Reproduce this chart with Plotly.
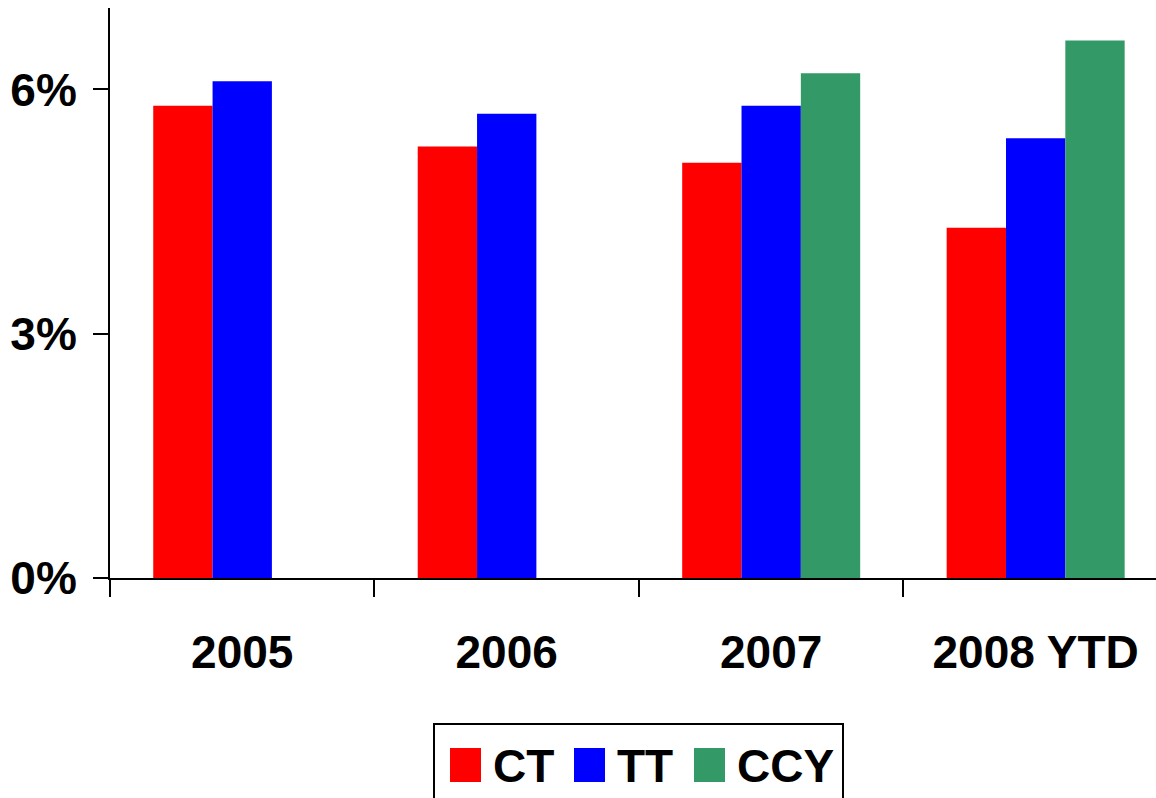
import plotly.graph_objects as go

# Annual rates by instrument (percent)
categories = ["2005", "2006", "2007", "2008 YTD"]
series_names = ["CT", "TT", "CCY"]
ct_values = [5.8, 5.3, 5.1, 4.3]
tt_values = [6.1, 5.7, 5.8, 5.4]
ccy_values = [None, None, 6.2, 6.6]
series_colors = ["#FF0000", "#0000FF", "#339966"]
y_tick_values = [0, 3, 6]
y_tick_labels = ["0%", "3%", "6%"]

FONT = "Arial, Liberation Sans, sans-serif"
W, H = 1156, 798
L, R, T, B = 110, 0, 8, 220

fig = go.Figure()
for name, vals, col in zip(series_names, [ct_values, tt_values, ccy_values], series_colors):
    fig.add_trace(go.Bar(x=categories, y=vals, name=name, marker=dict(color=col, line=dict(width=0)),
                         showlegend=False))

# pixel -> paper helpers for the hand-drawn legend
pw, ph = W - L - R, H - T - B
def px(x):
    return (x - L) / pw
def py(y):
    return (H - B - y) / ph

shapes = [dict(type="path", xref="paper", yref="paper",
               path=f"M {px(434)},{py(820)} L {px(434)},{py(724)} L {px(843)},{py(724)} L {px(843)},{py(820)}",
               line=dict(color="black", width=2))]
annotations = []
sq_left = [450, 574, 694]
txt_left = [491, 615, 735]
for name, col, sx, tx in zip(series_names, series_colors, sq_left, txt_left):
    shapes.append(dict(type="rect", xref="paper", yref="paper",
                       x0=px(sx), x1=px(sx + 31), y0=py(782), y1=py(748),
                       fillcolor=col, line=dict(width=0)))
    annotations.append(dict(xref="paper", yref="paper", x=px(tx), y=py(766), text=f"<b>{name}</b>",
                            showarrow=False, xanchor="left", yanchor="middle",
                            font=dict(family=FONT, size=46, color="black")))

fig.update_layout(
    width=W, height=H,
    margin=dict(l=L, r=R, t=T, b=B, pad=0),
    paper_bgcolor="white", plot_bgcolor="white",
    barmode="group", bargap=0.327, bargroupgap=0,
    font=dict(family=FONT, size=46, color="black"),
    shapes=shapes, annotations=annotations,
    xaxis=dict(range=[-0.5, 3.455], showline=True, linecolor="black", linewidth=2,
               ticks="outside", ticklen=17, tickwidth=2, tickcolor="black", tickson="boundaries",
               showgrid=False, zeroline=False, ticklabelstandoff=33,
               tickfont=dict(family=FONT, size=46, color="black", weight="bold")),
    yaxis=dict(range=[0, 7], showline=True, linecolor="black", linewidth=2,
               ticks="outside", ticklen=15, tickwidth=2, tickcolor="black",
               tickvals=y_tick_values, ticktext=y_tick_labels,
               showgrid=False, zeroline=False, ticklabelstandoff=7,
               tickfont=dict(family=FONT, size=46, color="black", weight="bold")),
)

fig.write_html("out.html")
